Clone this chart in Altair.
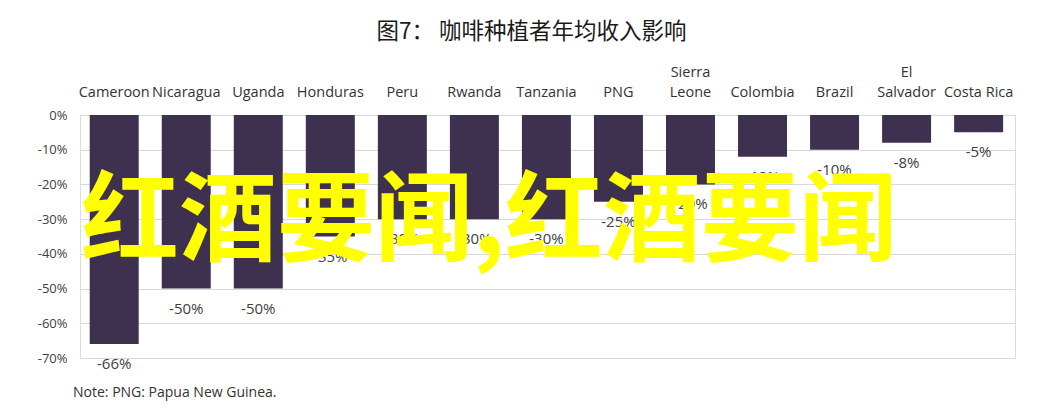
import altair as alt
import pandas as pd

countries = ["Cameroon", "Nicaragua", "Uganda", "Honduras", "Peru", "Rwanda", "Tanzania",
             "PNG", "Sierra|Leone", "Colombia", "Brazil", "El|Salvador", "Costa Rica"]
impact = [-66, -50, -50, -35, -30, -30, -30, -25, -20, -12, -10, -8, -5]
labels = [f"{v}%" for v in impact]
y_ticks = [0, -10, -20, -30, -40, -50, -60, -70]

df = pd.DataFrame({"country": countries, "impact": impact, "label": labels})

x = alt.X("country:N", sort=countries,
          scale=alt.Scale(paddingInner=0.32, paddingOuter=0.15, align=0.45),
          axis=alt.Axis(orient="top", title=None, labelAngle=0, ticks=False, domain=False,
                        labelFontSize=14.5, labelColor="#333333", labelFont="Open Sans",
                        labelPadding=36, labelLineHeight=20,
                        labelExpr="indexof(datum.label, '|') >= 0 ? split(datum.label, '|') : ['', datum.label]"))
y = alt.Y("impact:Q", scale=alt.Scale(domain=[-70, 0], nice=False),
          axis=alt.Axis(values=y_ticks,
                        labelExpr="datum.value == 0 ? '0%' : '-' + format(-datum.value, '.0f') + '%'",
                        labelOverlap=False, labelSeparation=0,
                        title=None, ticks=False, domain=False, labelFontSize=13,
                        labelColor="#404040", labelFont="Open Sans", labelPadding=13,
                        gridColor="#d9d9d9", gridWidth=1))

bars = alt.Chart(df).mark_bar(color="#3e3150").encode(x=x, y=y)
text = alt.Chart(df).mark_text(dy=20, fontSize=15, color="#404040", font="Open Sans").encode(
    x=x, y=y, text="label:N")

note = alt.Chart(pd.DataFrame({"t": ["Note: PNG: Papua New Guinea."]})).mark_text(
    align="left", baseline="middle", fontSize=14, color="#333333", font="Open Sans").encode(
    x=alt.value(-7), y=alt.value(278), text="t:N")

watermark = alt.Chart(pd.DataFrame({"t": ["红酒要闻,红酒要闻"]})).mark_text(
    align="center", baseline="middle", fontSize=98, fontWeight="bold", color="#ffff00",
    font="Noto Sans CJK SC").encode(x=alt.value(409), y=alt.value(109), text="t:N")

chart = alt.layer(bars, text, watermark, note).properties(
    width=935, height=243,
    title=alt.TitleParams("图7：  咖啡种植者年均收入影响", fontSize=22.5, font="Noto Sans CJK SC",
                          fontWeight="normal", color="#1a1a1a", anchor="middle", offset=21, dx=-16),
    autosize=alt.AutoSizeParams(type="none"),
    padding={"left": 72, "top": 107, "right": 17, "bottom": 48},
).configure_view(stroke=None).configure(background="white")

chart.save("out.html", embed_options={"renderer": "svg", "actions": False})
